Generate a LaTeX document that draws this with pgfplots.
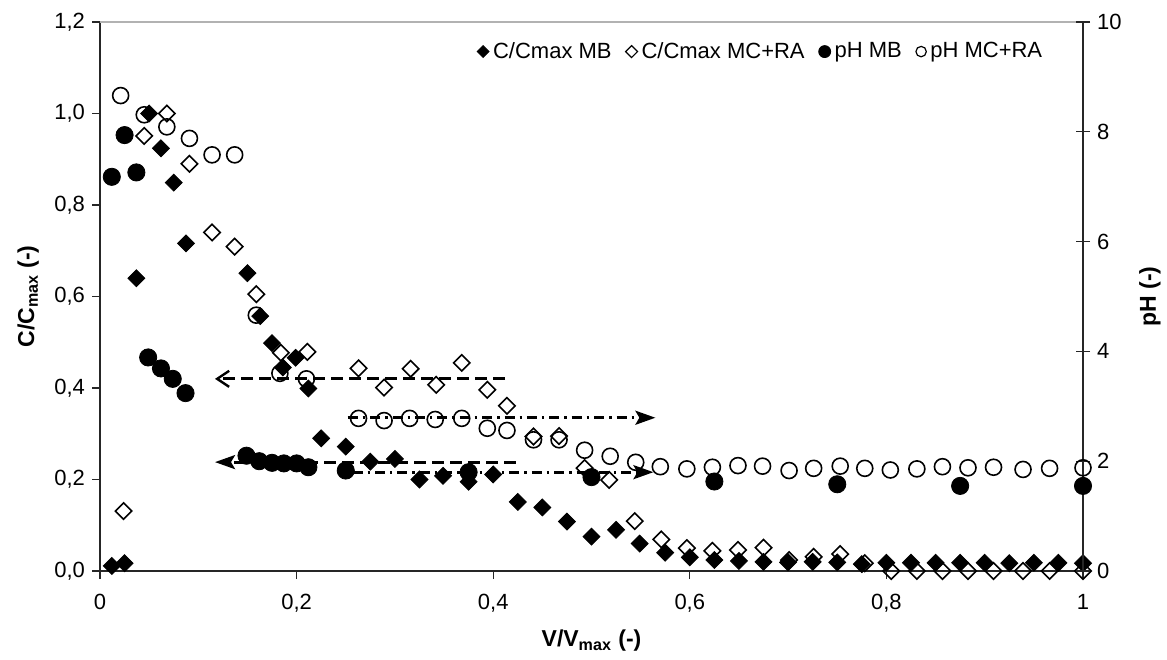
\documentclass[border=0pt]{standalone}
\usepackage{fontspec}
\setmainfont{Liberation Sans}
\usepackage{pgfplots}
\pgfplotsset{compat=1.18}
\usetikzlibrary{arrows.meta}

\pgfplotsset{
 mdf/.style={only marks, mark=square*, mark size=3pt, mark options={rotate=45, fill=black, draw=black, line width=0.4pt}},
 mdo/.style={only marks, mark=square, mark size=2.9pt, mark options={rotate=45, draw=black, line width=0.8pt}},
 mcf/.style={only marks, mark=*, mark size=4.3pt, mark options={fill=black, draw=black, line width=0.4pt}},
 mco/.style={only marks, mark=o, mark size=4.0pt, mark options={draw=black, line width=0.8pt}},
 baseax/.style={at={(0,0)}, anchor=south west, scale only axis, width=491.5pt, height=274.5pt,
   xmin=0, xmax=1, clip=false,
   tick label style={font=\fontsize{11}{13}\selectfont},
   axis line style={black!85, line width=0.6pt},
   tick style={black!85, line width=0.6pt}},
}

\begin{document}
\begin{tikzpicture}
\path[use as bounding box] (-50pt,-44pt) rectangle (533.5pt,285.5pt);

\begin{axis}[baseax,
  ymin=0, ymax=1.2,
  axis x line*=bottom, axis y line*=left,
  tick align=outside, major tick length=4pt,
  xtick={0,0.2,0.4,0.6,0.8,1},
  xticklabels={0,{0,2},{0,4},{0,6},{0,8},1},
  ytick={0,0.2,0.4,0.6,0.8,1,1.2},
  yticklabels={{0,0},{0,2},{0,4},{0,6},{0,8},{1,0},{1,2}},
  xticklabel style={yshift=-4pt},
  xlabel={\textbf{V/V\textsubscript{max} (-)}},
  ylabel={\textbf{C/C\textsubscript{max} (-)}},
  every axis x label/.style={at={(axis description cs:0.5,-0.1275)}, anchor=center, font=\fontsize{11.5}{13}\selectfont\bfseries},
  every axis y label/.style={at={(axis description cs:-0.073,0.5)}, rotate=90, anchor=center, font=\fontsize{11.5}{13}\selectfont\bfseries},
]
\draw[gray!60, line width=0.8pt] (rel axis cs:0,1) -- (rel axis cs:1,1);

% arrows
\addplot[black, line width=1.4pt, dash pattern=on 6pt off 3pt, -{Straight Barb[length=6pt,width=8pt,line width=1.2pt]}]
  coordinates {(0.412,0.42) (0.117,0.42)};
\addplot[black, line width=1.4pt, dash pattern=on 6pt off 3pt, -{Stealth[length=10pt,width=7pt,inset=2pt]}]
  coordinates {(0.423,0.238) (0.117,0.238)};
\addplot[black, line width=1.4pt, dash pattern=on 5pt off 2.5pt on 1.2pt off 2.5pt, -{Stealth[length=10pt,width=7pt,inset=2pt]}]
  coordinates {(0.252,0.335) (0.565,0.335)};
\addplot[black, line width=1.4pt, dash pattern=on 5pt off 2.5pt on 1.2pt off 2.5pt, -{Stealth[length=10pt,width=7pt,inset=2pt]}]
  coordinates {(0.257,0.216) (0.563,0.216)};

% C/Cmax MB
\addplot[mdf] coordinates {
(0.012,0.011) (0.025,0.017) (0.037,0.640) (0.050,1.000) (0.062,0.924) (0.075,0.849)
(0.0875,0.716) (0.150,0.651) (0.163,0.557) (0.175,0.498) (0.186,0.445) (0.199,0.466)
(0.212,0.399) (0.225,0.290) (0.250,0.272) (0.275,0.239) (0.300,0.245) (0.325,0.200)
(0.349,0.208) (0.375,0.195) (0.400,0.211) (0.425,0.151) (0.450,0.139) (0.475,0.108)
(0.500,0.075) (0.525,0.090) (0.549,0.060) (0.575,0.040) (0.600,0.030) (0.625,0.024)
(0.650,0.022) (0.675,0.020) (0.700,0.019) (0.725,0.020) (0.750,0.019) (0.775,0.015)
(0.800,0.018) (0.825,0.018) (0.850,0.018) (0.875,0.018) (0.900,0.018) (0.925,0.017)
(0.950,0.018) (0.975,0.018) (1.000,0.017)
};
% C/Cmax MC+RA
\addplot[mdo] coordinates {
(0.024,0.131) (0.045,0.951) (0.068,1.000) (0.091,0.890) (0.114,0.740) (0.137,0.709)
(0.159,0.605) (0.184,0.477) (0.211,0.479) (0.263,0.443) (0.289,0.401) (0.316,0.442)
(0.342,0.407) (0.368,0.455) (0.394,0.396) (0.414,0.361) (0.441,0.294) (0.467,0.295)
(0.493,0.225) (0.518,0.199) (0.544,0.109) (0.571,0.069) (0.597,0.050) (0.623,0.044)
(0.649,0.046) (0.675,0.051) (0.701,0.024) (0.726,0.031) (0.753,0.037) (0.778,0.017)
(0.805,0.0) (0.831,0.0) (0.857,0.0) (0.883,0.0) (0.909,0.0) (0.939,0.0) (0.966,0.0) (1.000,0.0)
};
\end{axis}

\begin{axis}[baseax,
  ymin=0, ymax=10,
  axis x line=none, axis y line*=right,
  tick align=center, major tick length=7pt,
  ytick={0,2,4,6,8,10},
  yticklabels={0,2,4,6,8,10},
  ylabel={\textbf{pH (-)}},
  every axis y label/.style={at={(axis description cs:1.068,0.5)}, rotate=90, anchor=center, font=\fontsize{11.5}{13}\selectfont\bfseries},
  legend columns=4,
  legend style={draw=none, fill=none, at={(0.965,0.975)}, anchor=north east,
    font=\fontsize{11}{13}\selectfont, inner sep=1pt,
    /tikz/every even column/.append style={column sep=5pt}},
  legend image code/.code={\draw[#1] plot coordinates {(0.1cm,0cm)};},
]
\addlegendimage{only marks, mark=square*, mark size=2.1pt, mark options={rotate=45, fill=black}}
\addlegendentry{C/Cmax MB}
\addlegendimage{only marks, mark=square, mark size=2.1pt, mark options={rotate=45, line width=0.6pt}}
\addlegendentry{C/Cmax MC+RA}
\addlegendimage{only marks, mark=*, mark size=3pt, mark options={fill=black}}
\addlegendentry{pH MB}
\addlegendimage{only marks, mark=o, mark size=2.6pt, mark options={line width=0.6pt}}
\addlegendentry{pH MC+RA}

% pH MB
\addplot[mcf, forget plot] coordinates {
(0.012,7.18) (0.025,7.94) (0.037,7.26) (0.049,3.89) (0.062,3.69) (0.074,3.50) (0.087,3.24)
(0.149,2.10) (0.162,2.00) (0.175,1.97) (0.187,1.96) (0.200,1.96) (0.212,1.89)
(0.250,1.83) (0.375,1.80) (0.500,1.71) (0.625,1.63) (0.750,1.58) (0.875,1.55) (1.000,1.55)
};
% pH MC+RA
\addplot[mco, forget plot] coordinates {
(0.021,8.66) (0.045,8.31) (0.068,8.09) (0.091,7.88) (0.114,7.58) (0.137,7.58)
(0.159,4.66) (0.183,3.60) (0.210,3.50) (0.263,2.78) (0.289,2.74) (0.315,2.78)
(0.341,2.76) (0.368,2.78) (0.394,2.60) (0.414,2.56) (0.441,2.39) (0.467,2.39)
(0.493,2.20) (0.519,2.09) (0.545,1.98) (0.570,1.90) (0.597,1.86) (0.623,1.89)
(0.649,1.92) (0.674,1.91) (0.701,1.83) (0.726,1.87) (0.753,1.91) (0.778,1.87)
(0.804,1.84) (0.831,1.86) (0.857,1.90) (0.883,1.88) (0.909,1.89) (0.939,1.85)
(0.966,1.87) (1.000,1.88)
};
\end{axis}
\end{tikzpicture}
\end{document}
